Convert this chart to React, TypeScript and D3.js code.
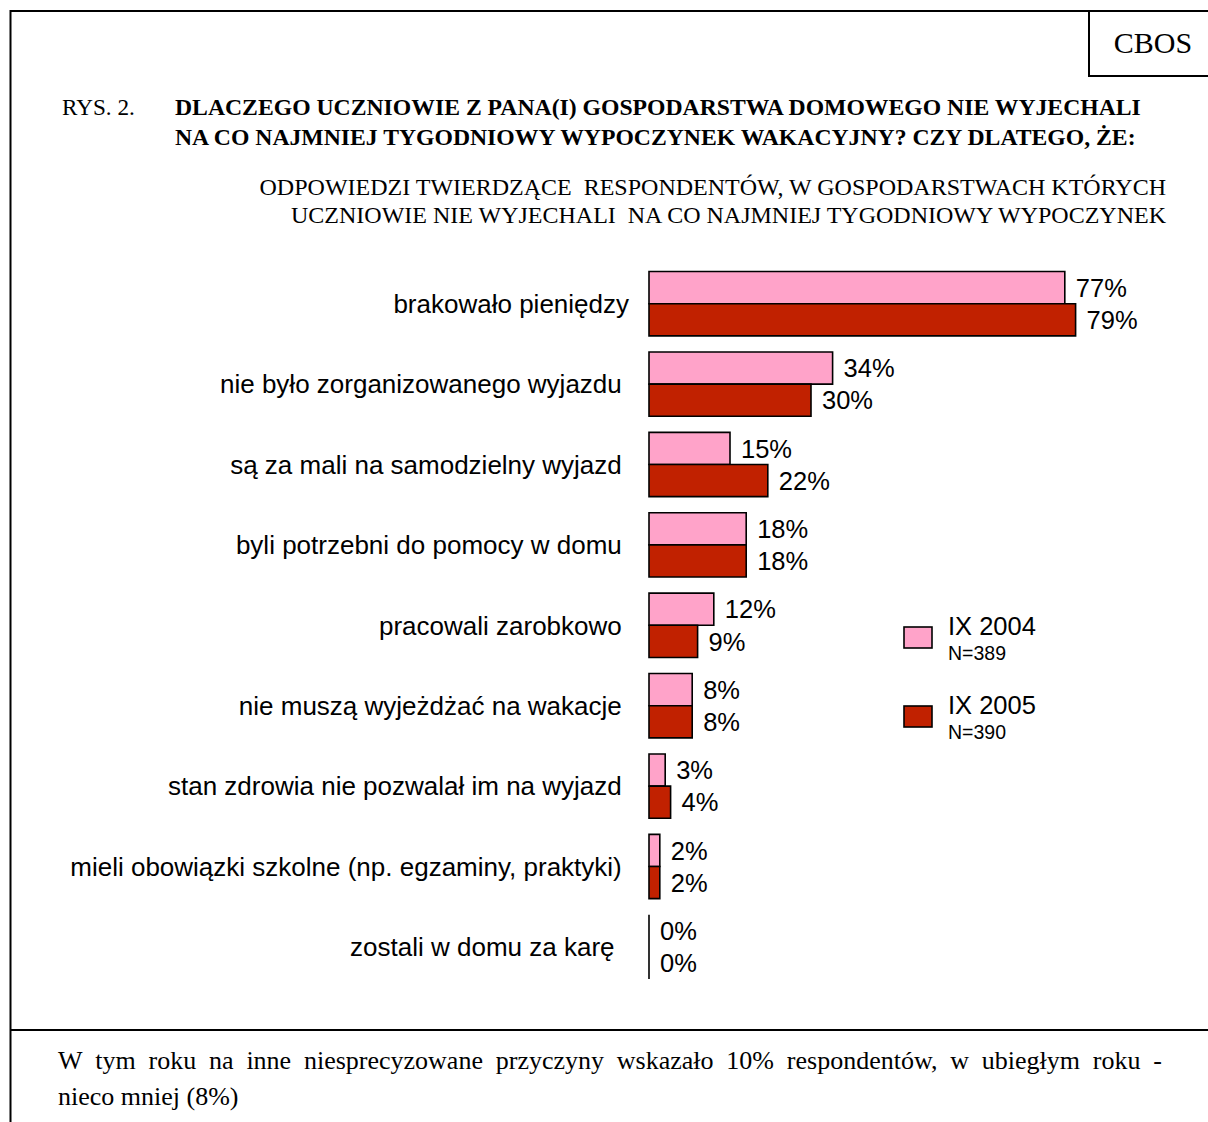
import React, { useEffect, useRef } from 'react';
import * as d3 from 'd3';

// reasons (some carry trailing spaces as in the source document)
const categories = [
  'brakowało pieniędzy',
  'nie było zorganizowanego wyjazdu ',
  'są za mali na samodzielny wyjazd ',
  'byli potrzebni do pomocy w domu ',
  'pracowali zarobkowo ',
  'nie muszą wyjeżdżać na wakacje ',
  'stan zdrowia nie pozwalał im na wyjazd ',
  'mieli obowiązki szkolne (np. egzaminy, praktyki) ',
  'zostali w domu za karę  ',
];

const values2004 = [77, 34, 15, 18, 12, 8, 3, 2, 0];
const values2005 = [79, 30, 22, 18, 9, 8, 4, 2, 0];

const seriesNames = ['IX 2004', 'IX 2005'];
const seriesN = ['N=389', 'N=390'];
const seriesColors = ['#ffa3c9', '#c12100'];

const titleLines = [
  'DLACZEGO UCZNIOWIE Z PANA(I) GOSPODARSTWA DOMOWEGO NIE WYJECHALI',
  'NA CO NAJMNIEJ TYGODNIOWY WYPOCZYNEK WAKACYJNY? CZY DLATEGO, ŻE:',
];
const subtitleLines = [
  'ODPOWIEDZI TWIERDZĄCE  RESPONDENTÓW, W GOSPODARSTWACH KTÓRYCH',
  'UCZNIOWIE NIE WYJECHALI  NA CO NAJMNIEJ TYGODNIOWY WYPOCZYNEK',
];
const footerLine1 = 'W tym roku na inne niesprecyzowane przyczyny wskazało 10% respondentów, w ubiegłym roku -';
const footerLine2 = 'nieco mniej (8%)';

const W = 1208;
const H = 1122;
const SERIF = '"Liberation Serif", "Times New Roman", serif';
const SANS = '"Liberation Sans", Arial, sans-serif';

export default function App() {
  const ref = useRef<SVGSVGElement>(null);

  useEffect(() => {
    if (!ref.current) return;
    const svg = d3.select(ref.current);
    svg.selectAll('*').remove();

    // 1) FRAME
    const frame = svg.append('g').attr('stroke', '#000').attr('stroke-width', 2).attr('fill', 'none');
    frame.append('line').attr('x1', 10).attr('y1', 11).attr('x2', W).attr('y2', 11);
    frame.append('line').attr('x1', 10.5).attr('y1', 10).attr('x2', 10.5).attr('y2', H);
    frame.append('line').attr('x1', 10).attr('y1', 1030).attr('x2', W).attr('y2', 1030);
    frame.append('path').attr('d', `M1089,11 V76 H${W}`);

    svg.append('text')
      .attr('x', 1153).attr('y', 53)
      .attr('text-anchor', 'middle')
      .attr('font-family', SERIF).attr('font-size', 30)
      .text('CBOS');

    // 2) TITLES
    svg.append('text')
      .attr('x', 62).attr('y', 115)
      .attr('font-family', SERIF).attr('font-size', 23.2)
      .text('RYS. 2.');

    titleLines.forEach((t, i) => {
      svg.append('text')
        .attr('x', 175).attr('y', 115 + i * 30)
        .attr('font-family', SERIF).attr('font-size', 23.7).attr('font-weight', 'bold')
        .text(t);
    });

    subtitleLines.forEach((t, i) => {
      svg.append('text')
        .attr('x', 1166).attr('y', 195 + i * 28)
        .attr('text-anchor', 'end')
        .attr('font-family', SERIF).attr('font-size', 24)
        .style('white-space', 'pre')
        .text(t);
    });

    // 3) BARS
    const x = d3.scaleLinear().domain([0, 100]).range([649, 1189]);
    const y = d3.scaleBand<string>()
      .domain(categories)
      .range([263.5, 987.1])
      .paddingInner(0.2)
      .paddingOuter(0.1);
    const sub = d3.scaleBand<string>().domain(seriesNames).range([0, y.bandwidth()]);

    const series = [values2004, values2005];
    const chart = svg.append('g');

    categories.forEach((cat, ci) => {
      const g0 = y(cat)!;
      chart.append('text')
        .attr('x', 629).attr('y', g0 + y.bandwidth() / 2)
        .attr('dy', '0.36em')
        .attr('text-anchor', 'end')
        .attr('font-family', SANS).attr('font-size', 26)
        .style('white-space', 'pre')
        .text(cat);

      seriesNames.forEach((s, si) => {
        const v = series[si][ci];
        const y0 = g0 + sub(s)!;
        const y1 = y0 + sub.bandwidth();
        const x0 = x(0);
        const x1 = x(v);
        chart.append('path')
          .attr('d', `M${x0},${y0} H${x1} V${y1} H${x0} Z`)
          .attr('fill', seriesColors[si])
          .attr('stroke', '#000')
          .attr('stroke-width', 1.6);
        chart.append('text')
          .attr('x', x1 + 11).attr('y', (y0 + y1) / 2)
          .attr('dy', '0.36em')
          .attr('font-family', SANS).attr('font-size', 25.5)
          .text(`${v}%`);
      });
    });

    // 4) LEGEND
    const legendY = [627, 706];
    seriesNames.forEach((s, si) => {
      const ly = legendY[si];
      svg.append('rect')
        .attr('x', 904).attr('y', ly).attr('width', 28).attr('height', 21)
        .attr('fill', seriesColors[si]).attr('stroke', '#000').attr('stroke-width', 1.6);
      svg.append('text')
        .attr('x', 948).attr('y', ly + 8)
        .attr('font-family', SANS).attr('font-size', 25.5)
        .text(s);
      svg.append('text')
        .attr('x', 948).attr('y', ly + 33)
        .attr('font-family', SANS).attr('font-size', 19.5)
        .text(seriesN[si]);
    });

    // 5) FOOTER (first line justified)
    const words = footerLine1.split(' ');
    const left = 58;
    const right = 1162;
    const wg = svg.append('g').attr('font-family', SERIF).attr('font-size', 26);
    const nodes = words.map((w) => wg.append('text').attr('y', 1069).text(w));
    const widths = nodes.map((n) => (n.node() as SVGTextElement).getComputedTextLength());
    const gap = (right - left - d3.sum(widths)) / (words.length - 1);
    let cx = left;
    nodes.forEach((n, i) => {
      n.attr('x', cx);
      cx += widths[i] + gap;
    });
    wg.append('text').attr('x', left).attr('y', 1105).text(footerLine2);
  }, []);

  return (
    <svg
      ref={ref}
      width={W}
      height={H}
      style={{ position: 'absolute', left: 0, top: 0, background: '#fff' }}
    />
  );
}
